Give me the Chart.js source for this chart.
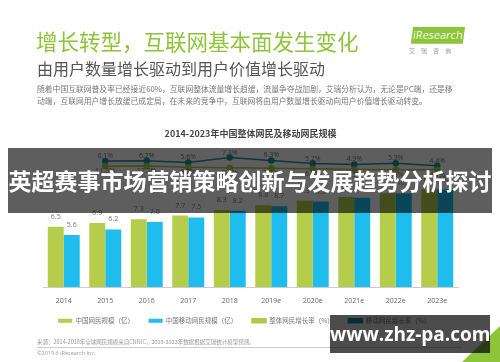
<!DOCTYPE html>
<html>
<head>
<meta charset="utf-8">
<script src="https://cdn.jsdelivr.net/npm/chart.js@4.4.0/dist/chart.umd.min.js"></script>
<style>
  html, body { margin: 0; padding: 0; background: #fff; }
  body { width: 500px; height: 362px; position: relative; overflow: hidden;
         font-family: "Noto Sans CJK SC", "Noto Sans", sans-serif; }
  #wrap { position: absolute; left: 0; top: 0; width: 500px; height: 362px; }
  .abs { position: absolute; white-space: nowrap; }
  #title { left: 36px; top: 27px; font-size: 21.5px; color: #8dc43a; line-height: 28px; }
  #sub { left: 37px; top: 58px; font-size: 16px; color: #555; line-height: 20px; }
  #para { left: 37px; top: 83px; font-size: 7.8px; color: #777; line-height: 12px; }
  #logo { left: 412px; top: 27px; width: 52px; height: 16px; background: #8dc43a;
          transform: skewX(-8deg); color: #fff; font-family: "Open Sans", sans-serif;
          font-size: 11px; line-height: 16px; text-align: center; }
  #logoCn { left: 409px; top: 46px; font-size: 6px; color: #999; letter-spacing: 6px; }
  #band { left: 8px; top: 148px; width: 484px; height: 65px; background: rgba(0,0,0,0.63);
          color: #fff; font-size: 23px; font-weight: bold; line-height: 65px; text-align: center; }
  #src { left: 37px; top: 338px; font-size: 5.5px; color: #999; }
  #sep { left: 37px; top: 347px; width: 425px; height: 1px; background: #ccc; }
  #copy { left: 37px; top: 349px; font-size: 5.5px; color: #999; font-family: "Open Sans", sans-serif; }
  #tri { left: 462px; top: 326px; width: 0; height: 0; border-left: 38px solid transparent;
         border-bottom: 36px solid #8dc43a; }
  #wm { left: 330px; top: 315px; width: 160px; height: 38px; background: rgba(0,0,0,0.7);
        color: #fff; font-family: "Open Sans", "DejaVu Sans", sans-serif; font-weight: bold;
        font-size: 19px; line-height: 38px; text-align: center; }
</style>
</head>
<body>
<div id="wrap"><canvas id="grafico" width="500" height="362"></canvas></div>

<div class="abs" id="title">增长转型，互联网基本面发生变化</div>
<div class="abs" id="sub">由用户数量增长驱动到用户价值增长驱动</div>
<div class="abs" id="para">随着中国互联网普及率已经接近60%，互联网整体流量增长趋缓，流量争夺战加剧，艾瑞分析认为，无论是PC端，还是移<br>动端，互联网用户增长放缓已成定局，在未来的竞争中，互联网将由用户数量增长驱动向用户价值增长驱动转变。</div>
<div class="abs" id="logo">iResearch</div>
<div class="abs" id="logoCn">艾瑞咨询</div>
<div class="abs" id="src">来源：2014-2018年全球网民规模来自CNNIC，2019-2023年数据根据艾瑞统计模型预测。</div>
<div class="abs" id="sep"></div>
<div class="abs" id="copy">©2019.6 iResearch Inc.</div>
<div class="abs" id="tri"></div>
<div class="abs" id="band">英超赛事市场营销策略创新与发展趋势分析探讨</div>
<div class="abs" id="wm">www.zhz-pa.com</div>

<script>
// dados do gráfico
const anos = ['2014', '2015', '2016', '2017', '2018', '2019e', '2020e', '2021e', '2022e', '2023e']
const netizens = [6.5, 6.9, 7.3, 7.7, 8.3, 8.8, 9.3, 9.7, 10.1, 10.5]
const mobileNetizens = [5.6, 6.2, 7.0, 7.5, 8.2, 8.7, 9.2, 9.6, 10.1, 10.5]
const greenRate = [null, 11.3, 12.2, 9.2, 8.5, 7.1, 6.3, 4.5, 4.3, 4.1]
const tealRate = [null, 6.1, 6.2, 5.6, 7.3, 6.3, 5.2, 4.9, 5.3, 4.4]

Chart.defaults.font.family = '"Noto Sans CJK SC", "Noto Sans", sans-serif'

// rótulos em cima das barras e pontos
const rotulos = {
    id: 'rotulos',
    afterDatasetsDraw(chart) {
        const ctx = chart.ctx
        ctx.save()
        ctx.font = '7px "Open Sans", sans-serif'
        ctx.textAlign = 'center'
        ctx.textBaseline = 'middle'
        ctx.fillStyle = '#777'
        chart.data.datasets.forEach((ds, i) => {
            const meta = chart.getDatasetMeta(i)
            meta.data.forEach((el, j) => {
                const v = ds.data[j]
                if (v == null) return
                if (ds.type === 'line') {
                    const dy = ds.labelPos === 'above' ? -5 : 5
                    ctx.fillText(v.toFixed(1) + '%', el.x, el.y + dy)
                } else {
                    ctx.fillText(v.toFixed(1), el.x, el.y - 10)
                }
            })
        })
        ctx.restore()
    }
}

const grafico = new Chart(document.getElementById('grafico'), {
    type: 'bar',
    data: {
        labels: anos,
        datasets: [{
            label: '中国网民规模（亿）',
            data: netizens,
            backgroundColor: '#b6cd4c',
            yAxisID: 'y'
        }, {
            label: '中国移动网民规模（亿）',
            data: mobileNetizens,
            backgroundColor: '#1fbdee',
            yAxisID: 'y'
        }, {
            type: 'line',
            label: '整体网民增长率（%）',
            data: greenRate,
            borderColor: '#b3c84a',
            backgroundColor: '#b3c84a',
            borderWidth: 1.5,
            pointRadius: 2.5,
            labelPos: 'below',
            yAxisID: 'y2'
        }, {
            type: 'line',
            label: '移动网民增长率（%）',
            data: tealRate,
            borderColor: '#1b94a6',
            backgroundColor: '#1b94a6',
            borderWidth: 1.5,
            pointRadius: 2.5,
            labelPos: 'above',
            yAxisID: 'y3'
        }]
    },
    options: {
        responsive: false,
        animation: false,
        layout: { padding: { left: 43, right: 42, top: 128, bottom: 28 } },
        datasets: { bar: { barPercentage: 1, categoryPercentage: 0.77 } },
        plugins: {
            title: {
                display: true,
                text: '2014-2023年中国整体网民及移动网民规模',
                color: '#444',
                font: { size: 9, weight: 'bold' },
                padding: { top: 0, bottom: 11 }
            },
            legend: {
                position: 'bottom',
                labels: {
                    color: '#777',
                    font: { size: 6.5 },
                    boxWidth: 14,
                    boxHeight: 4,
                    padding: 2,
                    generateLabels(chart) {
                        const itens = Chart.defaults.plugins.legend.labels.generateLabels(chart)
                        itens.forEach((it) => { it.text = it.text + '\u3000\u3000  ' })
                        return itens
                    }
                }
            },
            tooltip: { enabled: false }
        },
        scales: {
            x: {
                grid: { display: false, tickLength: 0 },
                border: { color: '#ccc' },
                ticks: { color: '#666', font: { size: 7, family: '"Open Sans", sans-serif' }, padding: 10 }
            },
            y: { display: false, min: 0, max: 14.77 },
            y2: { display: false, min: -242, max: 46 },
            y3: { display: false, min: -38, max: 10 }
        }
    },
    plugins: [rotulos]
})
</script>
</body>
</html>
